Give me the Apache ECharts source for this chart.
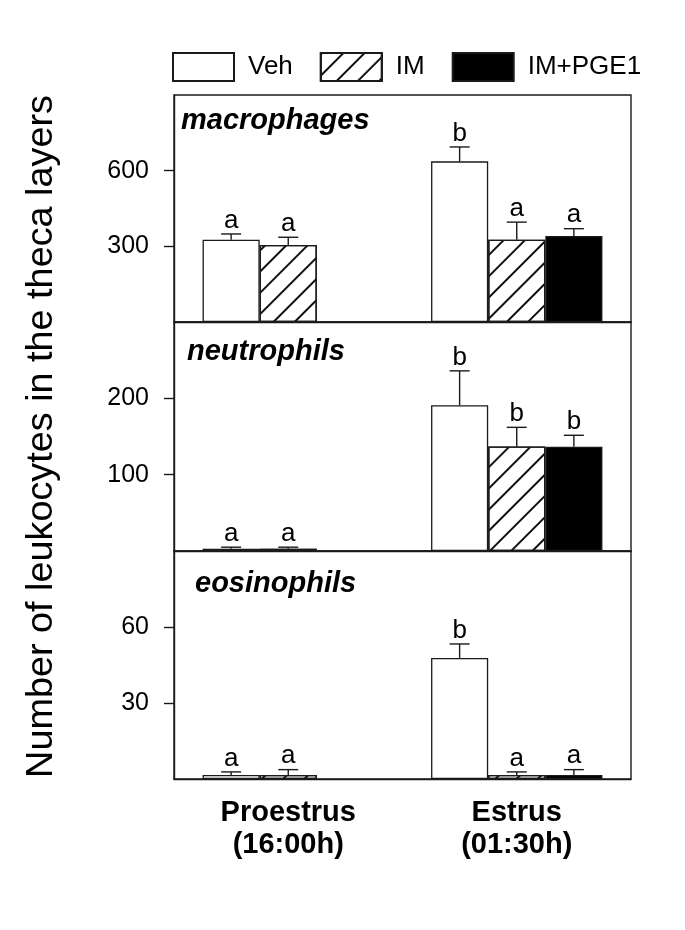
<!DOCTYPE html>
<html>
<head>
<meta charset="utf-8">
<script src="https://cdn.jsdelivr.net/npm/echarts@6/dist/echarts.min.js"></script>
<style>
html,body{margin:0;padding:0;background:#fff;}
#chart{width:685px;height:930px;}
</style>
</head>
<body>
<div id="chart"></div>
<script>
// ---- data ----
const categories = ['Proestrus\n(16:00h)', 'Estrus\n(01:30h)'];
const groupNames = ['Veh', 'IM', 'IM+PGE1'];
const panelTitles = ['macrophages', 'neutrophils', 'eosinophils'];

// macrophages
const macVeh = [326, 637];
const macVehErr = [23, 57];
const macVehSig = ['a', 'b'];
const macIM = [305, 326];
const macIMErr = [31, 70];
const macIMSig = ['a', 'a'];
const macPGE = [null, 341];
const macPGEErr = [null, 29];
const macPGESig = [null, 'a'];

// neutrophils
const neuVeh = [3, 191];
const neuVehErr = [2, 45];
const neuVehSig = ['a', 'b'];
const neuIM = [3, 137];
const neuIMErr = [2, 25];
const neuIMSig = ['a', 'b'];
const neuPGE = [null, 136.6];
const neuPGEErr = [null, 15];
const neuPGESig = [null, 'b'];

// eosinophils
const eosVeh = [1.6, 47.8];
const eosVehErr = [1.2, 5.5];
const eosVehSig = ['a', 'b'];
const eosIM = [1.6, 1.6];
const eosIMErr = [2.1, 1.2];
const eosIMSig = ['a', 'a'];
const eosPGE = [null, 1.6];
const eosPGEErr = [null, 2.1];
const eosPGESig = [null, 'a'];

// y-axis ranges & ticks
const yMax = [900, 300, 90];
const yTicks = [[300, 600], [100, 200], [30, 60]];

// ---- build ----
const FONT = '"Liberation Sans", Arial, Helvetica, sans-serif';
const LINE = '#1a1a1a';
const panels = [
  [[macVeh, macVehErr, macVehSig], [macIM, macIMErr, macIMSig], [macPGE, macPGEErr, macPGESig]],
  [[neuVeh, neuVehErr, neuVehSig], [neuIM, neuIMErr, neuIMSig], [neuPGE, neuPGEErr, neuPGESig]],
  [[eosVeh, eosVehErr, eosVehSig], [eosIM, eosIMErr, eosIMSig], [eosPGE, eosPGEErr, eosPGESig]]
];
const gridTops = [95, 322, 551];
const gridHeights = [227, 229, 228];
const titleTops = [106, 337, 569];
const titleLefts = [181, 187, 195];

const barStyles = [
  { color: '#ffffff', borderColor: LINE, borderWidth: 1.3 },
  { color: '#ffffff', borderColor: LINE, borderWidth: 1.3,
    decal: { symbol: 'rect', color: '#111', dashArrayX: [1, 0], dashArrayY: [1.2, 12.6], rotation: -Math.PI / 4, symbolSize: 1 } },
  { color: '#000000', borderColor: LINE, borderWidth: 1.3 }
];

const grids = [], xAxes = [], yAxes = [], series = [], titles = [];
for (let p = 0; p < 3; p++) {
  grids.push({ left: 174, width: 457, top: gridTops[p], height: gridHeights[p],
    show: true, borderColor: LINE, borderWidth: 1.4, backgroundColor: 'transparent', containLabel: false });
  xAxes.push({ type: 'category', gridIndex: p, data: categories,
    axisLine: { show: true, lineStyle: { color: LINE, width: 1.4 } },
    axisTick: { show: false },
    axisLabel: { show: p === 2, color: '#000', fontFamily: FONT, fontSize: 29, fontWeight: 'bold', lineHeight: 32, margin: 18 }
  });
  const y = { type: 'value', gridIndex: p, min: 0, max: yMax[p],
    splitLine: { show: false },
    axisLine: { show: true, lineStyle: { color: LINE, width: 1.4 } },
    axisTick: { show: true, inside: false, length: 10, lineStyle: { color: LINE, width: 1.4 }, customValues: yTicks[p] },
    axisLabel: { show: true, color: '#000', fontFamily: FONT, fontSize: 25, margin: 25, customValues: yTicks[p] }
  };
  if (p === 1) {
    y.name = 'Number of leukocytes in the theca layers';
    y.nameLocation = 'middle';
    y.nameRotate = 90;
    y.nameGap = 113;
    y.nameTextStyle = { color: '#000', fontFamily: FONT, fontSize: 37.8 };
  }
  yAxes.push(y);
  titles.push({ text: panelTitles[p], left: titleLefts[p], top: titleTops[p], padding: 0,
    textStyle: { color: '#000', fontFamily: FONT, fontSize: 29, fontWeight: 'bold', fontStyle: 'italic' } });

  for (let s = 0; s < 3; s++) {
    const [vals, errs, sigs] = panels[p][s];
    series.push({
      name: groupNames[s], type: 'bar', xAxisIndex: p, yAxisIndex: p,
      data: vals, barCategoryGap: '25%', barGap: '0%',
      itemStyle: barStyles[s], emphasis: { disabled: true }, animation: false
    });
  }
  for (let s = 0; s < 3; s++) {
    const [vals, errs, sigs] = panels[p][s];
    const offset = s - 1;
    series.push({
      type: 'custom', xAxisIndex: p, yAxisIndex: p, silent: true, animation: false, z: 5,
      data: vals.map((v, i) => [i, v == null ? NaN : v, errs[i] == null ? NaN : errs[i]]),
      renderItem: function (params, api) {
        const xi = api.value(0), v = api.value(1), e = api.value(2);
        if (isNaN(v)) return null;
        const top = api.coord([xi, v]);
        const cap = api.coord([xi, v + e]);
        const band = api.size([1, 0])[0];
        const bw = band * 0.75 / 3;
        const x = top[0] + offset * bw;
        const st = { stroke: LINE, lineWidth: 1.4 };
        const letter = sigs[params.dataIndex];
        return { type: 'group', children: [
          { type: 'line', shape: { x1: x, y1: top[1], x2: x, y2: cap[1] }, style: st },
          { type: 'line', shape: { x1: x - 10, y1: cap[1], x2: x + 10, y2: cap[1] }, style: st },
          { type: 'text', x: x, y: cap[1] - 0.5, style: { text: letter || '', fill: '#000', font: '26px ' + FONT, textAlign: 'center', textVerticalAlign: 'bottom' } }
        ] };
      }
    });
  }
}

const chart = echarts.init(document.getElementById('chart'), null, { renderer: 'canvas' });
chart.setOption({
  animation: false,
  backgroundColor: '#ffffff',
  title: titles,
  legend: {
    data: groupNames, left: 172, top: 52, padding: 0, itemWidth: 61, itemHeight: 28, itemGap: 27,
    icon: 'rect', selectedMode: false,
    textStyle: { color: '#000', fontFamily: FONT, fontSize: 26, padding: [0, 0, 0, 9] }
  },
  grid: grids, xAxis: xAxes, yAxis: yAxes, series: series
});
</script>
</body>
</html>
